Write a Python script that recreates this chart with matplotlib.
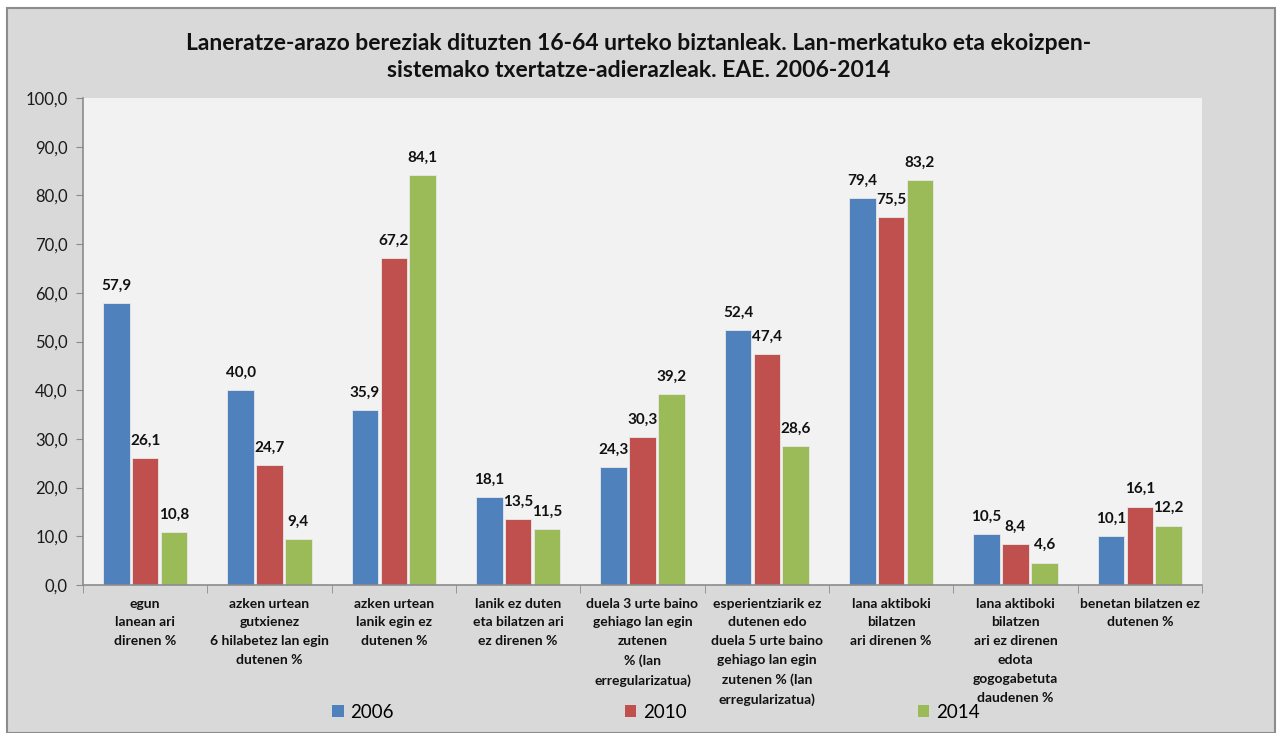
import numpy as np
import matplotlib.pyplot as plt
from matplotlib.patches import Patch, Rectangle

# ------------------ datuak ------------------
categories = [
    "egun\nlanean ari\ndirenen %",
    "azken urtean\ngutxienez\n6 hilabetez lan egin\ndutenen %",
    "azken urtean\nlanik egin ez\ndutenen %",
    "lanik ez duten\neta bilatzen ari\nez direnen %",
    "duela 3 urte baino\ngehiago lan egin\nzutenen\n% (lan\nerregularizatua)",
    "esperientziarik ez\ndutenen edo\nduela 5 urte baino\ngehiago lan egin\nzutenen % (lan\nerregularizatua)",
    "lana aktiboki\nbilatzen\nari direnen %",
    "lana aktiboki\nbilatzen\nari ez direnen\nedota\ngogogabetuta\ndaudenen %",
    "benetan bilatzen ez\ndutenen %",
]
years = ["2006", "2010", "2014"]
v2006 = [57.9, 40.0, 35.9, 18.1, 24.3, 52.4, 79.4, 10.5, 10.1]
v2010 = [26.1, 24.7, 67.2, 13.5, 30.3, 47.4, 75.5, 8.4, 16.1]
v2014 = [10.8, 9.4, 84.1, 11.5, 39.2, 28.6, 83.2, 4.6, 12.2]

title = ("Laneratze-arazo bereziak dituzten 16-64 urteko biztanleak. Lan-merkatuko eta ekoizpen-\n"
         "sistemako txertatze-adierazleak. EAE. 2006-2014")

colors = ["#4F81BD", "#C0504D", "#9BBB59"]

plt.rcParams['font.family'] = ['Lato', 'DejaVu Sans']

# ------------------ irudia ------------------
W, H = 1277, 733
fig = plt.figure(figsize=(W / 100, H / 100), dpi=100)
fig.patch.set_facecolor("white")

# chart area (gris) + ertza
fig.patches.append(Rectangle((7 / W, 0), (1275 - 7) / W, (H - 8) / H, transform=fig.transFigure,
                             facecolor="#D9D9D9", edgecolor="#8C8C8C", linewidth=1.5, zorder=-10))

ax = fig.add_axes([83 / W, (H - 585) / H, (1202 - 83) / W, (585 - 98) / H])
ax.set_facecolor("#F2F2F2")

x = np.arange(len(categories))
width = 0.213
step = 0.232
series = [v2006, v2010, v2014]
for i, vals in enumerate(series):
    bars = ax.bar(x + (i - 1) * step, vals, width, color=colors[i],
                  edgecolor="#E8E8E8", linewidth=0.6, zorder=2)
    for b, v in zip(bars, vals):
        ax.annotate(f"{v:.1f}".replace(".", ","),
                    (b.get_x() + b.get_width() / 2, v),
                    xytext=(0, 12.5), textcoords="offset points",
                    ha="center", va="center", fontsize=11, fontweight="bold", color="#111111")

ax.set_xlim(-0.5, len(categories) - 0.5)
ax.set_ylim(0, 100)
ax.set_yticks(np.arange(0, 101, 10))
ax.set_yticklabels([f"{t:.1f}".replace(".", ",") for t in np.arange(0, 101, 10)], fontsize=12, color="#1A1A1A")

ax.set_xticks(x)
ax.set_xticklabels(categories, fontsize=10, fontweight="bold", color="#111111", linespacing=1.68)
ax.set_xticks(np.arange(-0.5, len(categories)), minor=True)
ax.tick_params(axis="x", which="major", length=0, pad=9)
ax.tick_params(axis="x", which="minor", length=6, color="#8C8C8C", direction="out")
ax.tick_params(axis="y", length=5, color="#8C8C8C", direction="out", pad=6)

for s in ["top", "right"]:
    ax.spines[s].set_visible(False)
for s in ["left", "bottom"]:
    ax.spines[s].set_color("#8C8C8C")
    ax.spines[s].set_linewidth(1.2)

fig.text(0.5, (H - 57) / H, title, ha="center", va="center", fontsize=16.5, fontweight="bold",
         color="#111111", linespacing=1.3)

handles = [Patch(facecolor=c, edgecolor="none") for c in colors]
fig.legend(handles, years, loc="center", bbox_to_anchor=(656 / W, (H - 712) / H), ncol=3,
           frameon=False, fontsize=13.5, handlelength=0.6, handleheight=0.6, handletextpad=0.35,
           columnspacing=12.35)

fig.savefig("out.png", dpi=100, facecolor=fig.get_facecolor())
